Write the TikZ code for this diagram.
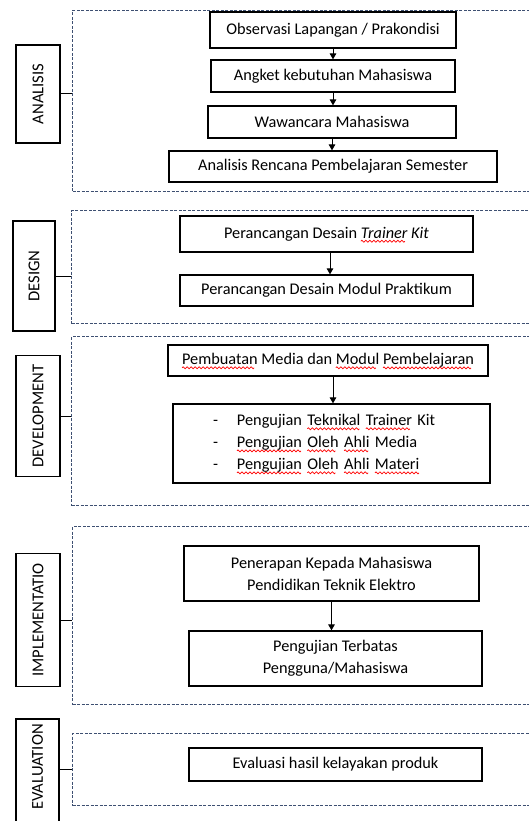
\documentclass[tikz,border=0pt]{standalone}
\usepackage{fontspec}
\setmainfont{Carlito}
\usetikzlibrary{arrows.meta}
\definecolor{dashcol}{HTML}{3E5072}
\newsavebox\wavebox
\newsavebox\sqbox
\newcommand\redsq[1]{\sbox\sqbox{#1}\rlap{\smash{\raisebox{-4pt}{\hbox to \wd\sqbox{\leaders\copy\wavebox\hfill}}}}\usebox{\sqbox}}
\tikzset{
 box/.style={draw, line width=1.2pt, inner sep=0pt, font=\fontsize{16.3}{22}\selectfont, align=center},
 region/.style={draw=dashcol, dash pattern=on 3pt off 1.5pt, line width=1pt, anchor=north west, inner sep=0pt},
 phase/.style={draw, line width=1.2pt, inner sep=0pt, rotate=90, font=\fontsize{16.6}{19}\selectfont},
 arr/.style={-{Triangle[length=6pt,width=6.5pt]}, line width=1pt},
 link/.style={line width=1pt}
}
\begin{document}
\sbox\wavebox{\begin{pgfpicture}%
\pgfpathrectanglecorners{\pgfpoint{0pt}{-1pt}}{\pgfpoint{4pt}{1pt}}%
\pgfusepath{use as bounding box}%
\pgfsetstrokecolor{red}\pgfsetlinewidth{0.7pt}%
\pgfpathmoveto{\pgfpoint{0pt}{0pt}}%
\pgfpathsine{\pgfpoint{1pt}{1pt}}%
\pgfpathcosine{\pgfpoint{1pt}{-1pt}}%
\pgfpathsine{\pgfpoint{1pt}{-1pt}}%
\pgfpathcosine{\pgfpoint{1pt}{1pt}}%
\pgfusepath{stroke}%
\end{pgfpicture}}%
\begin{tikzpicture}[x=1pt,y=-1pt]
\useasboundingbox (0,0) rectangle (529,821);
\clip (0,0) rectangle (529,821);

% ANALISIS
\node[region, minimum width=480pt, minimum height=181pt] (anaR) at (72,10) {};
\node[phase, minimum width=98pt, minimum height=44pt] (anaL) at (38,94) {ANALISIS};
\draw[link] (anaL.south) -- (anaL.south -| anaR.west);
\node[box, minimum width=246pt, minimum height=36pt] (obs) at (333,30) {Observasi Lapangan / Prakondisi};
\node[box, minimum width=244pt, minimum height=32pt] (ang) at (333,76) {Angket kebutuhan Mahasiswa};
\node[box, minimum width=248pt, minimum height=32pt] (waw) at (332,122) {Wawancara Mahasiswa};
\node[box, minimum width=328pt, minimum height=31pt] (rps) at (333,166.5) {Analisis Rencana Pembelajaran Semester};
\draw[arr] (obs.south) -- (obs.south |- ang.north);
\draw[arr] (ang.south) -- (ang.south |- waw.north);
\draw[arr] (waw.south) -- (waw.south |- rps.north);

% DESIGN
\node[region, minimum width=480pt, minimum height=113pt] (desR) at (71,210) {};
\node[phase, minimum width=110pt, minimum height=42pt] (desL) at (34,276) {DESIGN};
\draw[link] (desL.south) -- (desL.south -| desR.west);
\node[box, minimum width=293pt, minimum height=36pt] (d1) at (326.5,234) {Perancangan Desain \textit{\redsq{Trainer} Kit}};
\node[box, minimum width=293pt, minimum height=31pt] (d2) at (326.5,290.5) {Perancangan Desain Modul Praktikum};
\draw[arr] ([xshift=3.5pt]d1.south) -- ([xshift=3.5pt]d1.south |- d2.north);

% DEVELOPMENT
\node[region, minimum width=480pt, minimum height=169pt] (devR) at (71,336) {};
\node[phase, minimum width=121pt, minimum height=44pt] (devL) at (38,416) {DEVELOPMENT};
\draw[link] (devL.south) -- (devL.south -| devR.west);
\node[box, minimum width=320pt, minimum height=31pt] (v1) at (328,360.5) {\redsq{Pembuatan} Media dan \redsq{Modul} \redsq{Pembelajaran}};
\node[box, minimum height=79pt, text width=237pt, inner xsep=40pt, align=left] (v2) at (331.5,443.5) {-\hspace{19pt}Pengujian \redsq{Teknikal} \redsq{Trainer} Kit\\ -\hspace{19pt}\redsq{Pengujian} \redsq{Oleh} \redsq{Ahli} Media\\ -\hspace{19pt}\redsq{Pengujian} \redsq{Oleh} \redsq{Ahli} \redsq{Materi}};
\draw[arr] ([xshift=5pt]v1.south) -- ([xshift=5pt]v1.south |- v2.north);

% IMPLEMENTATION
\node[region, minimum width=480pt, minimum height=178pt] (impR) at (72,526) {};
\node[phase, minimum width=133pt, minimum height=44pt] (impL) at (38,620) {IMPLEMENTATIO};
\draw[link] (impL.south) -- (impL.south -| impR.west);
\node[box, minimum width=295pt, minimum height=55pt] (i1) at (331.5,573.5) {Penerapan Kepada Mahasiswa\\Pendidikan Teknik Elektro};
\node[box, minimum width=293pt, minimum height=55pt] (i2) at (335.5,658.5) {Pengujian Terbatas\\Pengguna/Mahasiswa};
\draw[arr] (i1.south) -- (i1.south |- i2.north);

% EVALUATION
\node[region, minimum width=480pt, minimum height=72pt] (evaR) at (72,733) {};
\node[phase, minimum width=120pt, minimum height=43pt] (evaL) at (37.5,779) {\hspace*{24pt}EVALUATION};
\draw[link] (evaL.south |- evaR.west) -- (evaR.west);
\node[box, minimum width=293pt, minimum height=33pt] (e1) at (335.5,764.5) {Evaluasi hasil kelayakan produk};
\end{tikzpicture}
\end{document}
